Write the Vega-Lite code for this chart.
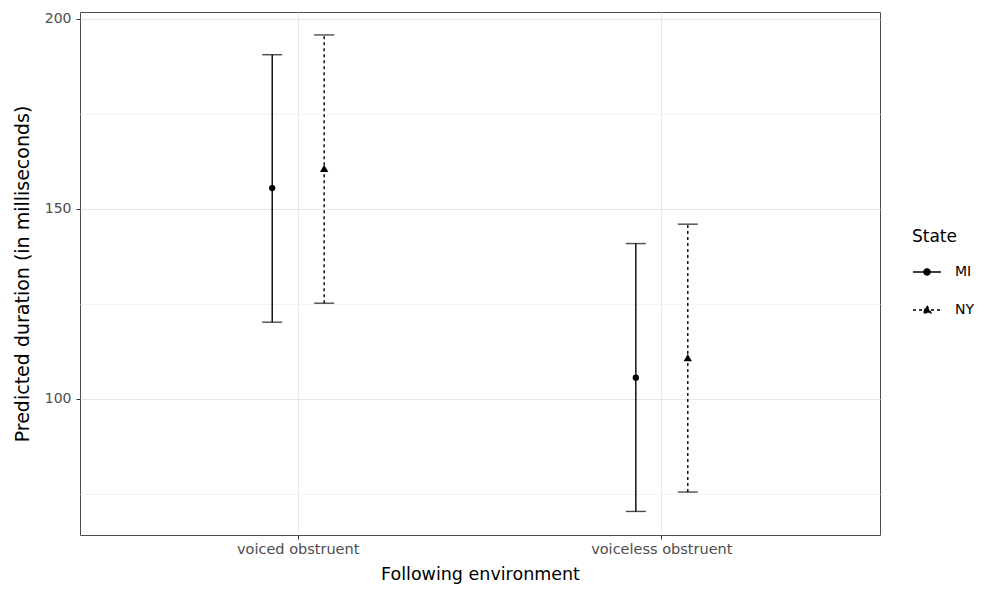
{
  "$schema": "https://vega.github.io/schema/vega-lite/v6.json",
  "width": 800,
  "height": 523,
  "autosize": "none",
  "padding": {"left": 80, "top": 12, "right": 104, "bottom": 56},
  "background": "white",
  "data": {
    "values": [
      {"env": "voiced obstruent", "State": "MI", "est": 155.5, "lo": 120.2, "hi": 190.6},
      {"env": "voiced obstruent", "State": "NY", "est": 160.7, "lo": 125.2, "hi": 195.8},
      {"env": "voiceless obstruent", "State": "MI", "est": 105.6, "lo": 70.4, "hi": 140.9},
      {"env": "voiceless obstruent", "State": "NY", "est": 110.9, "lo": 75.5, "hi": 146.0}
    ]
  },
  "encoding": {
    "x": {
      "field": "env", "type": "nominal",
      "scale": {"paddingInner": 0.5, "paddingOuter": 0.35},
      "axis": {
        "title": "Following environment", "labelAngle": 0,
        "domain": false, "grid": true, "gridColor": "#e8e8e8", "gridWidth": 1,
        "bandPosition": 0.5,
        "tickColor": "#333333", "tickSize": 4,
        "labelFont": "DejaVu Sans", "labelFontSize": 14.5, "labelColor": "#4d4d4d", "labelPadding": 3,
        "titleFont": "DejaVu Sans", "titleFontSize": 17.5, "titleFontWeight": "normal", "titleColor": "#000000", "titlePadding": 10
      }
    },
    "xOffset": {
      "field": "State", "type": "nominal",
      "scale": {"paddingInner": 0.5, "paddingOuter": 1.2667}
    }
  },
  "layer": [
    {
      "mark": {"type": "rule", "color": "black", "strokeWidth": 1.4},
      "encoding": {
        "y": {
          "field": "lo", "type": "quantitative",
          "scale": {"domain": [64.2, 201.84], "nice": false, "zero": false},
          "axis": {
            "title": "Predicted duration (in milliseconds)",
            "values": [75, 100, 125, 150, 175, 200],
            "labelExpr": "datum.value % 50 == 0 ? datum.label : ''",
            "domain": false,
            "grid": true,
            "gridColor": {"condition": {"test": "datum.value % 50 != 0", "value": "#f3f3f3"}, "value": "#e6e6e6"},
            "tickOpacity": {"condition": {"test": "datum.value % 50 != 0", "value": 0}, "value": 1},
            "tickColor": "#333333", "tickSize": 4,
            "labelFont": "DejaVu Sans", "labelFontSize": 14, "labelColor": "#4d4d4d", "labelPadding": 5,
            "titleFont": "DejaVu Sans", "titleFontSize": 19, "titleFontWeight": "normal", "titleColor": "#000000", "titlePadding": 12
          }
        },
        "y2": {"field": "hi"},
        "strokeDash": {
          "field": "State", "type": "nominal",
          "scale": {"domain": ["MI", "NY"], "range": [[1, 0], [3, 3]]},
          "legend": {
            "title": "State",
            "orient": "none", "legendX": 832, "legendY": 217,
            "titleFont": "DejaVu Sans", "titleFontSize": 17, "titleFontWeight": "normal", "titleColor": "#000000", "titlePadding": 11,
            "labelFont": "DejaVu Sans", "labelFontSize": 14, "labelColor": "#000000", "labelOffset": 13,
            "symbolSize": 784, "rowPadding": 16,
            "symbolType": "M-1,0H1",
            "symbolStrokeColor": "black", "symbolStrokeWidth": 1.4, "symbolFillColor": "black",
            "encode": {
              "symbols": {
                "update": {
                  "shape": {"signal": "datum.value === 'MI' ? 'M-1,0H1M-0.22,0A0.22,0.22 0 1,1 0.22,0A0.22,0.22 0 1,1 -0.22,0Z' : 'M-1,0H1M0,-0.3L0.28,0.2L-0.28,0.2Z'"},
                  "fill": {"value": "black"},
                  "stroke": {"value": "black"}
                }
              }
            }
          }
        }
      }
    },
    {
      "mark": {"type": "tick", "color": "black", "thickness": 1.4, "size": 20, "orient": "horizontal"},
      "encoding": {
        "y": {"field": "lo", "type": "quantitative"},
        "strokeDash": {"field": "State", "type": "nominal"}
      }
    },
    {
      "mark": {"type": "tick", "color": "black", "thickness": 1.4, "size": 20, "orient": "horizontal"},
      "encoding": {
        "y": {"field": "hi", "type": "quantitative"},
        "strokeDash": {"field": "State", "type": "nominal"}
      }
    },
    {
      "mark": {"type": "point", "filled": true, "color": "black", "opacity": 1},
      "encoding": {
        "y": {"field": "est", "type": "quantitative"},
        "shape": {
          "condition": {"test": "datum.State === 'MI'", "value": "circle"},
          "value": "triangle-up"
        },
        "size": {
          "condition": {"test": "datum.State === 'MI'", "value": 40},
          "value": 70
        }
      }
    }
  ],
  "config": {
    "view": {"stroke": "#4d4d4d", "strokeWidth": 1}
  }
}
